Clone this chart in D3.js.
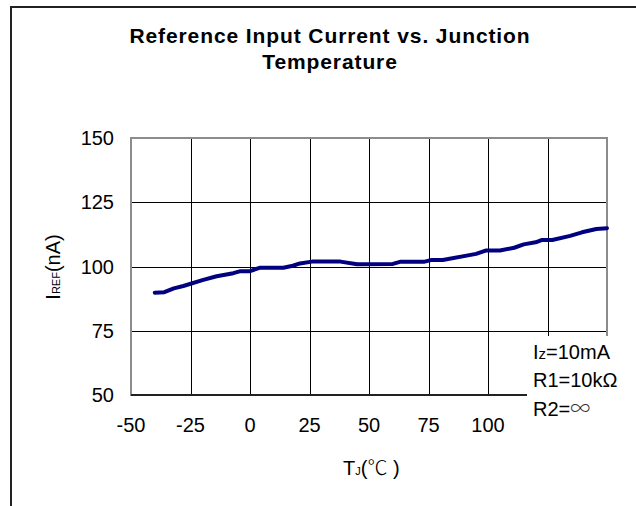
<!DOCTYPE html>
<html>
<head>
<meta charset="utf-8">
<script src="https://cdn.jsdelivr.net/npm/d3@7"></script>
<style>
  body { margin: 0; background: #fff; }
  svg { display: block; font-family: "Liberation Sans", Arial, sans-serif; }
</style>
</head>
<body>
<div id="chart"></div>
<script>
// Reference input current vs junction temperature

const temps = [-40, -36, -32, -28, -20, -14, -7, -4, 0, 4, 14, 18, 21, 26, 38, 45, 60, 63, 73, 76, 81,
    95, 99, 105, 111, 115, 120, 122.5, 127, 134.5, 139.5, 145.5, 150];
const iref = [89.8, 90.0, 91.5, 92.4, 94.7, 96.2, 97.4, 98.2, 98.2, 99.5, 99.5, 100.3, 101.2, 101.9, 101.9, 100.9, 101.0, 101.8, 101.8, 102.5, 102.5,
    104.9, 106.2, 106.2, 107.3, 108.6, 109.4, 110.3, 110.3, 111.9, 113.3, 114.6, 114.9];

const xGrid = [-50, -25, 0, 25, 50, 75, 100, 125, 150];
const xLabels = [-50, -25, 0, 25, 50, 75, 100];
const yTicks = [50, 75, 100, 125, 150];

const width = 636, height = 506;
const margin = { top: 138, right: 29, bottom: 111, left: 131 };

const data = temps.map((t, i) => ({ t: t, v: iref[i] }));

const x = d3.scaleLinear().domain([-50, 150]).range([margin.left, width - margin.right]);
const y = d3.scaleLinear().domain([50, 150]).range([height - margin.bottom, margin.top]);

const svg = d3.select("#chart")
    .append("svg")
    .attr("width", width)
    .attr("height", height);

// outer chart frame (runs off the page right and bottom)
svg.append("rect")
    .attr("x", 11).attr("y", 7)
    .attr("width", 700).attr("height", 600)
    .attr("fill", "none")
    .attr("stroke", "#222")
    .attr("stroke-width", 2);

// title
svg.append("text")
    .attr("text-anchor", "middle")
    .attr("font-size", 21)
    .attr("font-weight", "bold")
    .attr("letter-spacing", 0.9)
    .selectAll("tspan")
    .data(["Reference Input Current vs. Junction", "Temperature"])
    .join("tspan")
    .attr("x", 330)
    .attr("y", (d, i) => 43 + i * 26)
    .text(d => d);

// grid
svg.append("g")
    .attr("stroke", "#000")
    .attr("stroke-width", 1)
    .selectAll("line")
    .data(xGrid.slice(1, -1))
    .join("line")
    .attr("x1", d => Math.round(x(d)) + 0.5).attr("x2", d => Math.round(x(d)) + 0.5)
    .attr("y1", y(150)).attr("y2", y(50));

svg.append("g")
    .attr("stroke", "#000")
    .attr("stroke-width", 1)
    .selectAll("line")
    .data(yTicks.slice(1, -1))
    .join("line")
    .attr("x1", x(-50)).attr("x2", x(150))
    .attr("y1", d => Math.round(y(d)) + 0.5).attr("y2", d => Math.round(y(d)) + 0.5);

// plot border
svg.append("rect")
    .attr("x", x(-50)).attr("y", y(150))
    .attr("width", x(150) - x(-50)).attr("height", y(50) - y(150))
    .attr("fill", "none")
    .attr("stroke", "#8c8c8c")
    .attr("stroke-width", 2);

svg.append("line")
    .attr("x1", x(-50)).attr("x2", x(150))
    .attr("y1", y(50)).attr("y2", y(50))
    .attr("stroke", "#222")
    .attr("stroke-width", 2);

// the line
svg.append("path")
    .datum(data)
    .attr("fill", "none")
    .attr("stroke", "#000080")
    .attr("stroke-width", 4)
    .attr("stroke-linejoin", "round")
    .attr("stroke-linecap", "round")
    .attr("d", d3.line().x(d => x(d.t)).y(d => y(d.v)));

// y tick labels
svg.append("g")
    .attr("font-size", 20)
    .attr("text-anchor", "end")
    .selectAll("text")
    .data(yTicks)
    .join("text")
    .attr("x", x(-50) - 17)
    .attr("y", d => y(d) + 7)
    .text(d => d);

// x tick labels
svg.append("g")
    .attr("font-size", 20)
    .attr("text-anchor", "middle")
    .selectAll("text")
    .data(xLabels)
    .join("text")
    .attr("x", d => x(d))
    .attr("y", 432)
    .text(d => d);

// axis titles
const yt = svg.append("text")
    .attr("font-size", 20)
    .attr("text-anchor", "middle")
    .attr("transform", "translate(60,267) rotate(-90)");
yt.append("tspan").text("I");
yt.append("tspan").attr("font-size", 11).text("REF");
yt.append("tspan").text("(nA)");

const xt = svg.append("text")
    .attr("font-size", 20)
    .attr("x", 343)
    .attr("y", 475);
xt.append("tspan").text("T");
xt.append("tspan").attr("font-size", 11).text("J");
xt.append("tspan").text("(");
xt.append("tspan").attr("font-family", "Noto Sans CJK JP").attr("font-weight", 300).text("℃");
xt.append("tspan").text(" )");

// conditions box
svg.append("rect")
    .attr("x", 527).attr("y", 336)
    .attr("width", 109).attr("height", 90)
    .attr("fill", "#fff");

const notes = svg.append("g").attr("font-size", 20);
const n1 = notes.append("text").attr("x", 533).attr("y", 359);
n1.append("tspan").text("I");
n1.append("tspan").attr("font-size", 15).text("z");
n1.append("tspan").text("=10mA");
notes.append("text").attr("x", 533).attr("y", 387).text("R1=10kΩ");
const n3 = notes.append("text").attr("x", 533).attr("y", 416);
n3.append("tspan").text("R2=");
n3.append("tspan").attr("font-family", "Noto Sans CJK JP").attr("font-weight", 300).attr("fill", "#333").text("∞");
</script>
</body>
</html>
